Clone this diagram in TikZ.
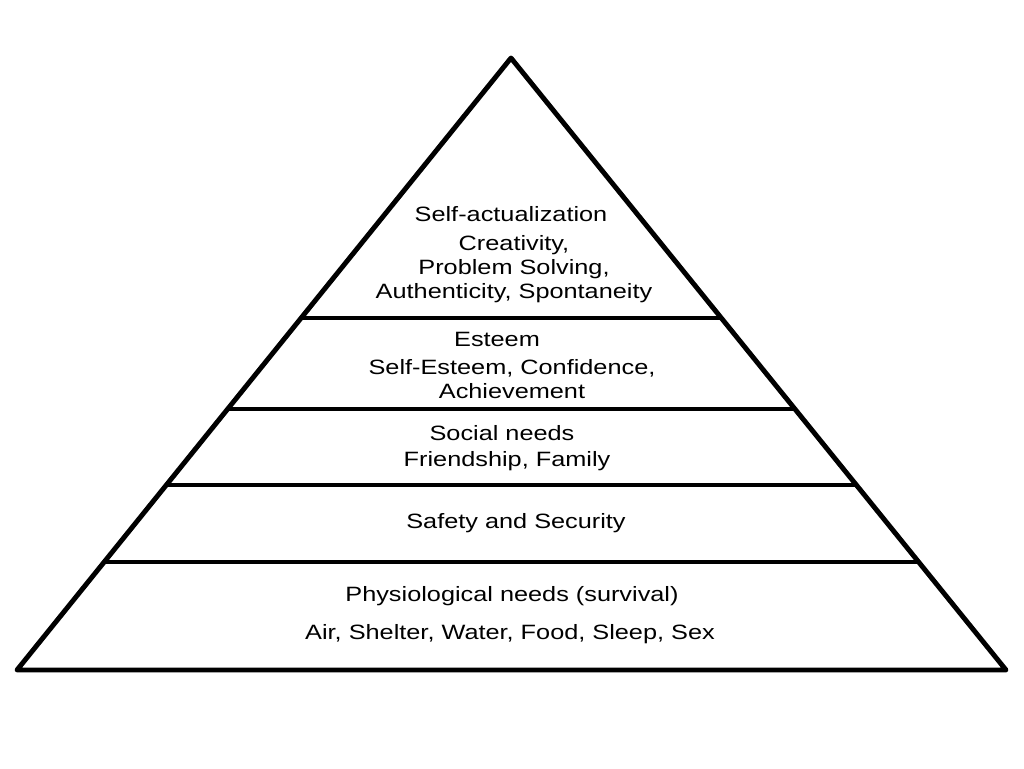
\documentclass[tikz,border=0pt]{standalone}
\usepackage{fontspec}
\setmainfont{Liberation Sans}[FakeStretch=1.22]
\usepackage{xcolor}
\usetikzlibrary{calc}

\tikzset{
  tier/.style={align=center, font=\fontsize{11.8}{13.6}\selectfont, inner sep=0pt},
  outline/.style={line width=2.8pt, line join=round, line cap=round},
  divider/.style={line width=1.8pt}
}

\begin{document}
\begin{tikzpicture}[x=0.02cm, y=-0.02cm]
\useasboundingbox[fill=white] (0,0) rectangle (1024,768);

\coordinate (apex) at (511,58);
\coordinate (bl) at (17,670);
\coordinate (br) at (1006,670);

% the tiers
\foreach \p/\n in {0.4248/a, 0.5735/b, 0.6977/c, 0.8235/d}{
  \coordinate (l\n) at ($(apex)!\p!(bl)$);
  \coordinate (r\n) at ($(apex)!\p!(br)$);
  \draw[divider] (l\n) -- (r\n);
}
\draw[outline] (apex) -- (bl) -- (br) -- cycle;

\node[tier] (selfact) at (511,214) {Self-actualization};
\node[tier] (selfactx) at (514,269) {Creativity,\\Problem Solving,\\Authenticity, Spontaneity};
\node[tier] (esteem) at (497,339) {Esteem};
\node[tier] (esteemx) at (512,379) {Self-Esteem, Confidence,\\Achievement};
\node[tier] (social) at (502,433) {Social needs};
\node[tier] (socialx) at (507,461) {Friendship, Family};
\node[tier] (safety) at (516,523) {Safety and Security};
\node[tier] (physio) at (512,596) {Physiological needs (survival)};
\node[tier] (physiox) at (510,634) {Air, Shelter, Water, Food, Sleep, Sex};
\end{tikzpicture}
\end{document}
